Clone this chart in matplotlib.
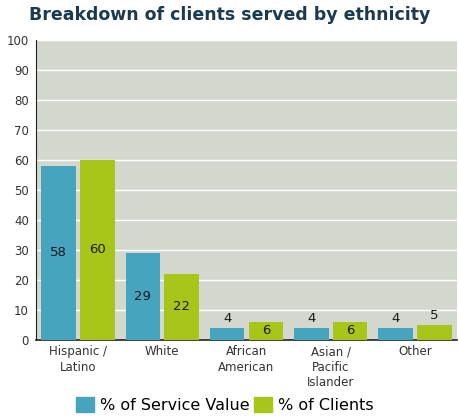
import numpy as np
import matplotlib.pyplot as plt
from matplotlib.patches import Patch

# Share of service value vs share of clients, by ethnicity
categories = ['Hispanic /\nLatino', 'White', 'African\nAmerican', 'Asian /\nPacific\nIslander', 'Other']
service_value = [58, 29, 4, 4, 4]
clients = [60, 22, 6, 6, 5]
series_names = ['% of Service Value', '% of Clients']

blue = '#47A4BF'
green = '#A8C51A'

fig = plt.figure(figsize=(4.59, 4.16), dpi=100)
ax = fig.add_axes([0.078, 0.183, 0.918, 0.721])
ax.set_facecolor('#D3D8CE')

x = np.arange(len(categories))
w = 0.41
gap = 0.025
b1 = ax.bar(x - w / 2 - gap, service_value, w, color=blue, zorder=3)
b2 = ax.bar(x + w / 2 + gap, clients, w, color=green, zorder=3)

# value labels: centred inside tall bars, above short ones
for bars, vals in [(b1, service_value), (b2, clients)]:
    for rect, v in zip(bars, vals):
        cx = rect.get_x() + rect.get_width() / 2
        if v >= 6:
            ax.text(cx, v / 2, str(v), ha='center', va='center', fontsize=9.5, color='#1a1a1a', zorder=4)
        else:
            ax.text(cx, v + 1, str(v), ha='center', va='bottom', fontsize=9.5, color='#1a1a1a', zorder=4)

ax.set_ylim(0, 100)
ax.set_yticks(range(0, 101, 10))
ax.set_xlim(-0.5, len(categories) - 0.5)
ax.set_xticks(x)
ax.set_xticklabels(categories, fontsize=8.5, color='#333333', linespacing=1.25)
ax.tick_params(axis='y', labelsize=8.5, colors='#333333', length=0, pad=5)
ax.tick_params(axis='x', length=0, pad=4)
ax.yaxis.grid(True, color='white', linewidth=1, zorder=1)
for s in ['top', 'right']:
    ax.spines[s].set_visible(False)
ax.spines['left'].set_color('#222222')
ax.spines['bottom'].set_color('#222222')
ax.spines['bottom'].set_linewidth(1.2)

fig.suptitle('Breakdown of clients served by ethnicity', x=0.5, y=0.985,
             fontsize=12.5, fontweight='bold', color='#1B3A4F')

handles = [Patch(color=blue), Patch(color=green)]
fig.legend(handles, series_names, loc='lower center', bbox_to_anchor=(0.49, -0.027), ncol=2,
           frameon=False, fontsize=11.5, handlelength=1.1, handleheight=1.1,
           handletextpad=0.4, columnspacing=0.3)

fig.savefig('out.png', dpi=100)
